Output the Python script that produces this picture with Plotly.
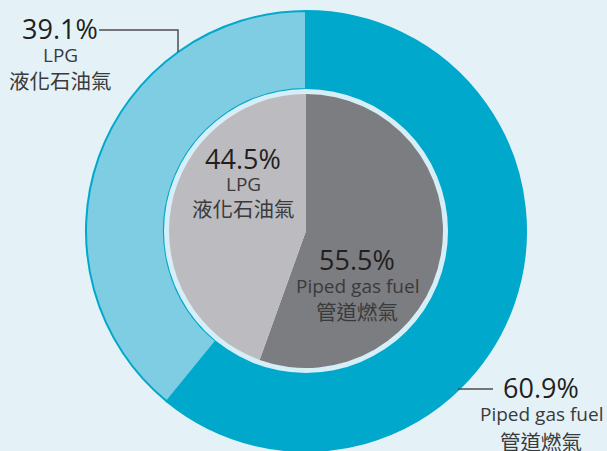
import plotly.graph_objects as go

# ---- data ----
categories = ["Piped gas fuel", "LPG"]
categories_zh = ["管道燃氣", "液化石油氣"]
outer_values = [60.9, 39.1]
inner_values = [55.5, 44.5]
outer_colors = ["#00a8cc", "#7ecde3"]
inner_colors = ["#7c7d81", "#bcbcc0"]

W, H = 607, 451
BG = "#e4f2f8"
CX, CY = 306, 231  # pixel centre (from top-left)
R_OUT, R_GAP, R_IN = 220, 142, 137


def dom(r):
    return dict(x=[(CX - r) / W, (CX + r) / W],
                y=[max(0, 1 - (CY + r) / H), 1 - (CY - r) / H])


fig = go.Figure()
fig.add_trace(go.Pie(
    values=outer_values, labels=categories, sort=False, direction="clockwise",
    rotation=0, hole=R_GAP / R_OUT, textinfo="none", hoverinfo="label+percent",
    marker=dict(colors=outer_colors, line=dict(color="#00a8cc", width=2)),
    domain=dom(R_OUT), showlegend=False))
fig.add_trace(go.Pie(
    values=[1], labels=["gap"], sort=False, hole=R_IN / R_GAP, textinfo="none",
    hoverinfo="skip", marker=dict(colors=["#d6eef7"], line=dict(width=0)),
    domain=dom(R_GAP), showlegend=False))
fig.add_trace(go.Pie(
    values=inner_values, labels=categories, sort=False, direction="clockwise",
    rotation=0, textinfo="none", hoverinfo="label+percent",
    marker=dict(colors=inner_colors, line=dict(width=0)),
    domain=dom(R_IN), showlegend=False))

LAT = "Open Sans, Noto Sans, sans-serif"
CJK = "Noto Sans CJK TC, Noto Sans CJK SC, sans-serif"
PCT_C = "#231f20"
LBL_C = "#3a3a3c"


def label(px, py, pct, en, zh, d1=27, d2=52):
    ann = [
        dict(x=px / W, y=1 - (py) / H, text=pct,
             font=dict(family=LAT, size=27, color=PCT_C, weight=500)),
        dict(x=px / W, y=1 - (py + d1) / H, text=en,
             font=dict(family=LAT, size=19, color=LBL_C)),
        dict(x=px / W, y=1 - (py + d2) / H, text=zh,
             font=dict(family=CJK, size=20.5, color=LBL_C)),
    ]
    for a in ann:
        a.update(xref="paper", yref="paper", showarrow=False,
                 xanchor="center", yanchor="middle")
    return ann


anns = []
anns += label(60, 28, f"{outer_values[1]}%", categories[1], categories_zh[1])
anns += label(541, 387, f"{outer_values[0]}%", categories[0], categories_zh[0], 27, 54)
anns += label(243, 158, f"{inner_values[1]}%", categories[1], categories_zh[1], 26, 50)
anns += label(357, 259, f"{inner_values[0]}%", categories[0], categories_zh[0], 27, 52)

line_c = "#4d4d4f"
shapes = [
    dict(type="path", xref="paper", yref="paper",
         path=f"M {99/W} {1-30/H} L {178/W} {1-30/H} L {178/W} {1-52/H}",
         line=dict(color=line_c, width=1.5)),
    dict(type="line", xref="paper", yref="paper",
         x0=458 / W, y0=1 - 389 / H, x1=493 / W, y1=1 - 389 / H,
         line=dict(color=line_c, width=1.5)),
]

fig.update_layout(
    width=W, height=H, margin=dict(l=0, r=0, t=0, b=0),
    paper_bgcolor=BG, plot_bgcolor=BG,
    annotations=anns, shapes=shapes,
)
fig.write_html(
    "out.html",
    config={"displayModeBar": False},
    post_script="document.body.style.margin='0';document.body.style.overflow='hidden';",
)
